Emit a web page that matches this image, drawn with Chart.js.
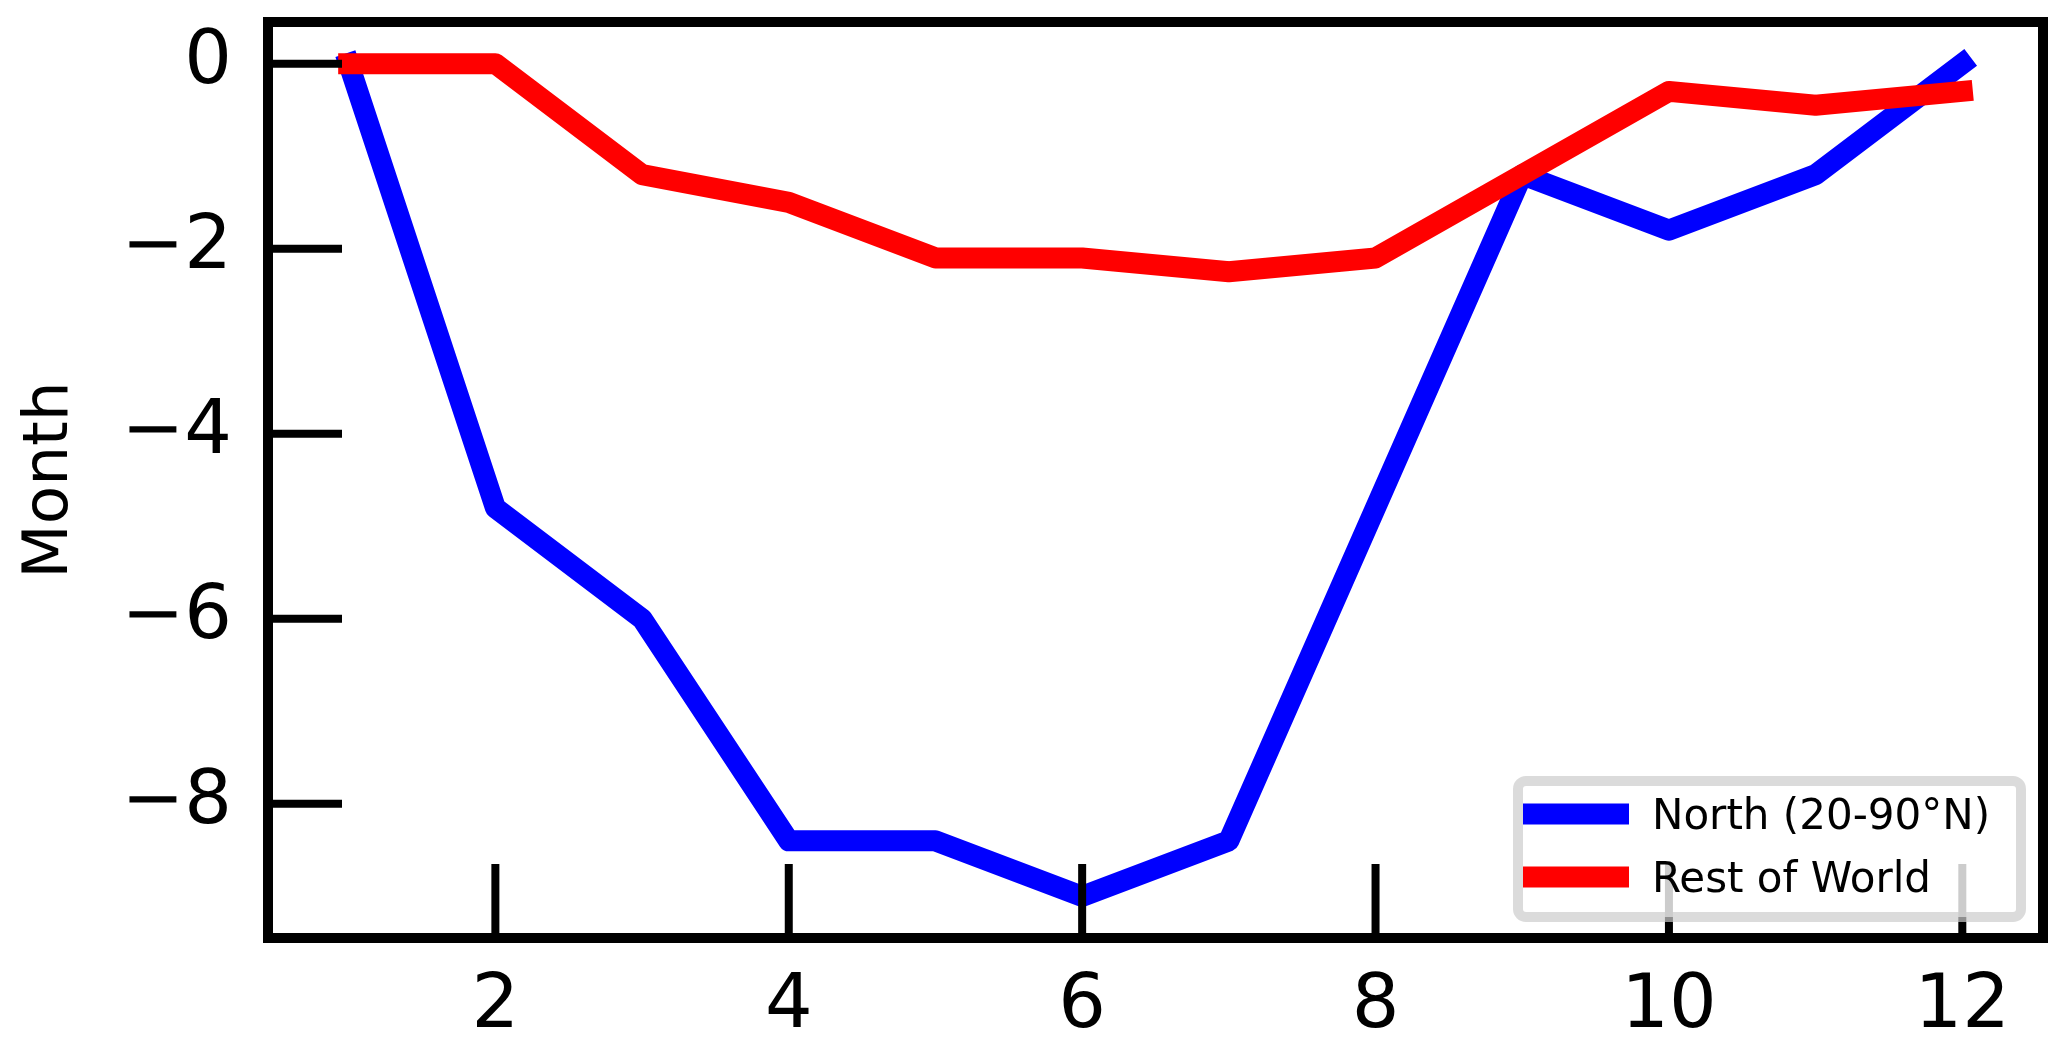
<!DOCTYPE html>
<html lang="en">
<head>
    <meta charset="UTF-8">
    <title>North vs Rest of World</title>
    <script src="https://cdn.jsdelivr.net/npm/chart.js"></script>
    <style>
        html, body { margin: 0; padding: 0; background: #fff; }
        #wrap { width: 2067px; height: 1051px; }
    </style>
</head>
<body>
    <div id="wrap"><canvas id="chart" width="2067" height="1051"></canvas></div>

    <script>
        // data
        const months = [1, 2, 3, 4, 5, 6, 7, 8, 9, 10, 11, 12];
        const northValues = [0, -4.8, -6.0, -8.4, -8.4, -9.0, -8.4, -4.8, -1.2, -1.8, -1.2, 0];
        const restValues = [0, 0, -1.2, -1.5, -2.1, -2.1, -2.25, -2.1, -1.2, -0.3, -0.45, -0.3];
        const seriesLabels = ['North (20-90°N)', 'Rest of World'];
        const xTicks = [2, 4, 6, 8, 10, 12];
        const yTicks = [0, -2, -4, -6, -8];
        const yTitle = 'Month';

        const FONT = 'DejaVu Sans';

        // inward ticks, box spines and the legend
        const framePlugin = {
            id: 'frame',
            afterDatasetsDraw(chart) {
                const { ctx, chartArea: a, scales: { x, y } } = chart;
                ctx.save();
                ctx.strokeStyle = '#000';
                ctx.lineCap = 'butt';
                ctx.lineWidth = 8;
                ctx.beginPath();
                x.ticks.forEach(t => {
                    const px = x.getPixelForValue(t.value);
                    ctx.moveTo(px, a.bottom);
                    ctx.lineTo(px, a.bottom - 74);
                });
                y.ticks.forEach(t => {
                    const py = y.getPixelForValue(t.value);
                    ctx.moveTo(a.left, py);
                    ctx.lineTo(a.left + 74, py);
                });
                ctx.stroke();
                ctx.lineWidth = 10;
                ctx.lineJoin = 'miter';
                ctx.strokeRect(a.left, a.top, a.right - a.left, a.bottom - a.top);
                ctx.restore();
            },
            afterDraw(chart) {
                const ctx = chart.ctx;
                const sets = chart.data.datasets;
                ctx.save();
                ctx.beginPath();
                ctx.roundRect(1518, 781, 503, 136, 8);
                ctx.fillStyle = 'rgba(255,255,255,0.8)';
                ctx.fill();
                ctx.lineWidth = 10;
                ctx.strokeStyle = 'rgba(204,204,204,0.7)';
                ctx.stroke();

                ctx.font = '42px "' + FONT + '"';
                ctx.textBaseline = 'alphabetic';
                ctx.textAlign = 'left';
                ctx.fillStyle = '#000';
                sets.forEach((ds, i) => {
                    const cy = 814 + i * 63;
                    ctx.strokeStyle = ds.borderColor;
                    ctx.lineWidth = 21;
                    ctx.lineCap = 'butt';
                    ctx.beginPath();
                    ctx.moveTo(1523, cy);
                    ctx.lineTo(1629, cy);
                    ctx.stroke();
                    ctx.fillText(ds.label, 1652, cy + 15);
                });
                ctx.restore();
            }
        };

        const ctx = document.getElementById('chart').getContext('2d');
        new Chart(ctx, {
            type: 'line',
            data: {
                datasets: [
                    {
                        label: seriesLabels[0],
                        data: months.map((m, i) => ({ x: m, y: northValues[i] })),
                        borderColor: '#0000ff',
                        order: 1
                    },
                    {
                        label: seriesLabels[1],
                        data: months.map((m, i) => ({ x: m, y: restValues[i] })),
                        borderColor: '#ff0000',
                        order: 0
                    }
                ]
            },
            options: {
                responsive: false,
                animation: false,
                devicePixelRatio: 1,
                layout: { padding: { top: 22, right: 24, bottom: 0, left: 0 } },
                elements: {
                    line: { borderWidth: 21, borderCapStyle: 'square', borderJoinStyle: 'round', tension: 0, fill: false },
                    point: { radius: 0, hoverRadius: 0 }
                },
                plugins: {
                    legend: { display: false },
                    tooltip: { enabled: false }
                },
                scales: {
                    x: {
                        type: 'linear',
                        min: 0.45,
                        max: 12.55,
                        grid: { display: false, drawTicks: false },
                        border: { display: false },
                        afterBuildTicks: s => { s.ticks = xTicks.map(v => ({ value: v })); },
                        afterFit: s => {
                            s.height = 113;
                            s.paddingLeft = 0;
                            s.paddingRight = 0;
                        },
                        ticks: {
                            font: { family: FONT, size: 75 },
                            color: '#000',
                            padding: 25,
                            maxRotation: 0,
                            autoSkip: false
                        }
                    },
                    y: {
                        type: 'linear',
                        min: -9.45,
                        max: 0.45,
                        grid: { display: false, drawTicks: false },
                        border: { display: false },
                        afterBuildTicks: s => { s.ticks = yTicks.map(v => ({ value: v })); },
                        afterFit: s => {
                            s.width = 268;
                            s.paddingTop = 0;
                            s.paddingBottom = 0;
                        },
                        ticks: {
                            font: { family: FONT, size: 75 },
                            color: '#000',
                            padding: 36,
                            autoSkip: false,
                            callback: v => v < 0 ? '\u2212' + Math.abs(v) : String(v)
                        },
                        title: {
                            display: true,
                            text: yTitle,
                            font: { family: FONT, size: 63 },
                            color: '#000',
                            padding: { top: 13, bottom: 0 }
                        }
                    }
                }
            },
            plugins: [framePlugin]
        });
    </script>
</body>
</html>
